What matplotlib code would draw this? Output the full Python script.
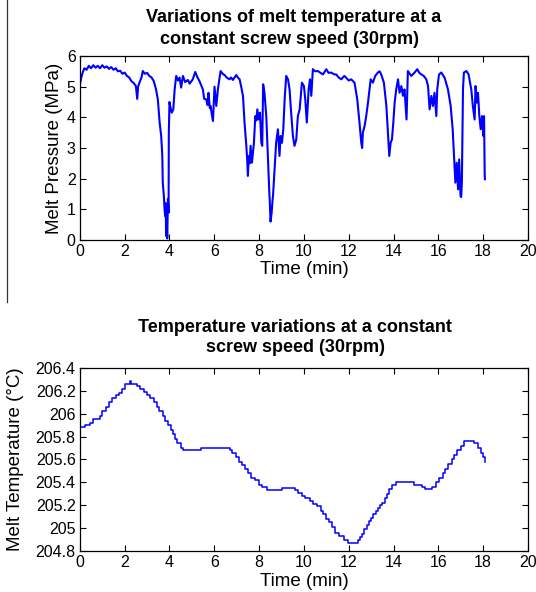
import matplotlib

matplotlib.use("Agg")
import matplotlib.pyplot as plt
from matplotlib.lines import Line2D

plt.rcParams["font.family"] = ["Liberation Sans", "DejaVu Sans"]

# melt pressure trace (time in min, pressure in MPa)
pressure_time = [
    0.0, 0.05, 0.12, 0.2, 0.3, 0.4, 0.5, 0.6, 0.7, 0.8, 0.9, 1.0, 1.1, 1.2, 1.3, 1.4,
    1.5, 1.6, 1.7, 1.8, 1.9, 2.0, 2.1, 2.2, 2.3, 2.4, 2.5, 2.56, 2.6, 2.66, 2.75, 2.81,
    2.9, 3.0, 3.1, 3.2, 3.3, 3.4, 3.48, 3.56, 3.63, 3.68, 3.7, 3.75, 3.78, 3.81, 3.83, 3.85,
    3.88, 3.9, 3.93, 3.96, 3.97, 4.0, 4.03, 4.1, 4.17, 4.23, 4.3, 4.38, 4.45, 4.52, 4.6, 4.7,
    4.82, 4.9, 5.04, 5.15, 5.25, 5.34, 5.49, 5.55, 5.64, 5.7, 5.74, 5.8, 5.83, 5.94, 6.01, 6.09,
    6.16, 6.22, 6.28, 6.4, 6.46, 6.55, 6.68, 6.75, 6.83, 6.98, 7.05, 7.13, 7.2, 7.28, 7.35, 7.43,
    7.47, 7.5, 7.54, 7.58, 7.62, 7.68, 7.77, 7.83, 7.88, 7.92, 7.98, 8.04, 8.1, 8.14, 8.18, 8.24,
    8.32, 8.39, 8.45, 8.48, 8.51, 8.56, 8.6, 8.62, 8.66, 8.69, 8.76, 8.84, 8.91, 8.96, 9.02, 9.08,
    9.14, 9.21, 9.29, 9.36, 9.43, 9.51, 9.58, 9.66, 9.73, 9.81, 9.91, 10.0, 10.06, 10.13, 10.21, 10.27,
    10.33, 10.4, 10.5, 10.62, 10.75, 10.85, 11.0, 11.1, 11.22, 11.35, 11.44, 11.55, 11.67, 11.8, 11.89, 12.0,
    12.11, 12.26, 12.38, 12.48, 12.56, 12.6, 12.63, 12.71, 12.78, 12.86, 12.93, 12.98, 13.08, 13.18, 13.3, 13.38,
    13.45, 13.57, 13.68, 13.75, 13.81, 13.87, 13.93, 13.99, 14.05, 14.12, 14.2, 14.27, 14.35, 14.42, 14.49, 14.58,
    14.64, 14.79, 14.94, 15.06, 15.15, 15.24, 15.35, 15.46, 15.54, 15.61, 15.69, 15.76, 15.83, 15.91, 15.95, 16.03,
    16.13, 16.28, 16.43, 16.55, 16.64, 16.7, 16.76, 16.82, 16.88, 16.93, 16.99, 17.02, 17.05, 17.1, 17.14, 17.25,
    17.35, 17.47, 17.54, 17.62, 17.66, 17.72, 17.77, 17.83, 17.89, 17.95, 18.01, 18.04, 18.07, 18.08,
]
pressure_mpa = [
    5.05, 5.25, 5.45, 5.6, 5.55, 5.68, 5.6, 5.7, 5.62, 5.68, 5.6, 5.7, 5.62, 5.66, 5.58, 5.64,
    5.55, 5.6, 5.5, 5.52, 5.42, 5.46, 5.35, 5.3, 5.18, 5.12, 5.02, 4.6, 5.0, 5.13, 5.3, 5.51,
    5.42, 5.45, 5.35, 5.3, 5.18, 4.91, 4.59, 3.83, 3.39, 2.74, 1.87, 1.43, 1.0, 0.78, 1.2, 0.13,
    0.5, 0.05, 1.33, 0.89, 3.5, 4.5, 4.37, 4.15, 4.26, 4.91, 5.35, 5.2, 5.3, 4.97, 5.35, 5.15,
    5.22, 5.1, 5.24, 5.48, 5.3, 5.18, 4.91, 4.6, 4.59, 4.4, 4.8, 4.3, 4.37, 3.88, 5.0, 4.37,
    4.91, 5.2, 5.51, 5.4, 5.38, 5.3, 5.24, 5.3, 5.22, 5.38, 5.3, 5.24, 5.0, 4.7, 3.83, 3.07,
    2.6, 2.09, 2.74, 2.5, 3.07, 2.52, 3.17, 4.04, 3.9, 4.26, 3.93, 4.15, 3.17, 3.07, 5.08, 4.8,
    4.04, 2.74, 1.65, 1.2, 0.6, 0.89, 1.3, 1.43, 1.9, 2.3, 3.17, 3.61, 2.74, 3.39, 3.17, 3.61,
    4.59, 5.35, 5.24, 4.91, 4.15, 3.39, 3.07, 3.28, 4.04, 4.26, 5.13, 5.02, 4.59, 3.83, 4.91, 5.24,
    4.7, 5.57, 5.5, 5.51, 5.45, 5.4, 5.57, 5.45, 5.46, 5.4, 5.4, 5.3, 5.24, 5.35, 5.29, 5.2,
    5.24, 5.13, 4.59, 3.83, 3.17, 3.0, 3.5, 3.72, 4.04, 4.48, 4.91, 5.24, 5.13, 5.35, 5.46, 5.5,
    5.4, 5.13, 4.37, 3.5, 2.74, 3.17, 3.28, 3.83, 4.48, 4.91, 5.24, 4.8, 5.02, 4.7, 4.91, 3.93,
    5.51, 5.35, 5.46, 5.57, 5.45, 5.4, 5.35, 5.24, 5.02, 4.26, 4.7, 4.37, 4.8, 4.04, 4.91, 5.4,
    5.46, 5.29, 4.91, 4.37, 3.61, 2.74, 1.87, 2.52, 1.65, 2.63, 1.43, 1.4, 1.87, 4.91, 5.46, 5.51,
    5.4, 4.91, 4.37, 3.93, 5.02, 4.48, 4.8, 4.04, 3.61, 4.04, 3.39, 4.04, 2.09, 1.98,
]

# melt temperature, stepwise readings (time in min, temperature in degC)
temp_time = [
    0.0, 0.25, 0.45, 0.6, 0.9, 1.0, 1.15, 1.3, 1.45, 1.6, 1.75, 1.88, 2.0, 2.25, 2.3, 2.55,
    2.7, 2.85, 3.0, 3.15, 3.3, 3.45, 3.55, 3.7, 3.8, 3.95, 4.05, 4.15, 4.25, 4.35, 4.5, 4.6,
    5.4, 6.7, 6.8, 6.95, 7.1, 7.25, 7.35, 7.5, 7.65, 7.8, 8.0, 8.15, 8.35, 9.0, 9.6, 9.75,
    9.9, 10.05, 10.25, 10.4, 10.6, 10.75, 10.85, 11.0, 11.1, 11.25, 11.4, 11.55, 11.8, 11.95, 12.4, 12.5,
    12.6, 12.7, 12.8, 12.9, 13.0, 13.1, 13.2, 13.3, 13.4, 13.5, 13.6, 13.7, 13.8, 13.95, 14.1, 14.9,
    15.25, 15.4, 15.7, 15.9, 16.05, 16.2, 16.3, 16.45, 16.6, 16.7, 16.85, 17.0, 17.15, 17.6, 17.75, 17.9,
    18.0, 18.08,
]
temp_c = [
    205.88, 205.90, 205.92, 205.95, 205.98, 206.02, 206.06, 206.10, 206.14, 206.16, 206.18, 206.22, 206.26, 206.29, 206.26, 206.24,
    206.22, 206.19, 206.16, 206.14, 206.10, 206.06, 206.02, 205.98, 205.94, 205.90, 205.86, 205.82, 205.78, 205.74, 205.70, 205.68,
    205.70, 205.68, 205.66, 205.62, 205.58, 205.55, 205.52, 205.48, 205.44, 205.42, 205.38, 205.36, 205.33, 205.35, 205.33, 205.31,
    205.28, 205.26, 205.24, 205.21, 205.19, 205.15, 205.12, 205.08, 205.05, 205.01, 204.96, 204.93, 204.90, 204.87, 204.90, 204.92,
    204.95, 204.99, 205.03, 205.06, 205.09, 205.12, 205.15, 205.18, 205.20, 205.22, 205.26, 205.30, 205.34, 205.38, 205.40, 205.38,
    205.36, 205.34, 205.36, 205.40, 205.44, 205.48, 205.52, 205.56, 205.60, 205.64, 205.68, 205.72, 205.76, 205.74, 205.70, 205.66,
    205.62, 205.58,
]

x_ticks = list(range(0, 21, 2))
pressure_ticks = [0, 1, 2, 3, 4, 5, 6]
temp_ticks = [204.8, 205.0, 205.2, 205.4, 205.6, 205.8, 206.0, 206.2, 206.4]
temp_tick_labels = ["204.8", "205", "205.2", "205.4", "205.6", "205.8", "206", "206.2", "206.4"]

BLUE = "#0000ff"


def style_axes(ax):
    ax.tick_params(direction="in", top=True, right=True, length=4, width=0.8, labelsize=11.5, pad=3)
    for spine in ax.spines.values():
        spine.set_linewidth(0.9)
        spine.set_color("black")


def main():
    fig = plt.figure(figsize=(5.36, 5.92), dpi=100)

    ax1 = fig.add_axes([0.149, 0.5946, 0.836, 0.3108])
    ax1.plot(pressure_time, pressure_mpa, color=BLUE, linewidth=1.5)
    ax1.set_xlim(0, 20)
    ax1.set_ylim(0, 6)
    ax1.set_xticks(x_ticks)
    ax1.set_yticks(pressure_ticks)
    style_axes(ax1)
    ax1.set_xlabel("Time (min)", fontsize=13.5, labelpad=1)
    ax1.set_ylabel("Melt Pressure (MPa)", fontsize=13.5)
    ax1.yaxis.set_label_coords(-0.038, 0.5)

    ax2 = fig.add_axes([0.149, 0.0693, 0.836, 0.3091])
    ax2.plot(temp_time, temp_c, color=BLUE, linewidth=1.1, drawstyle="steps-post")
    ax2.set_xlim(0, 20)
    ax2.set_ylim(204.8, 206.4)
    ax2.set_xticks(x_ticks)
    ax2.set_yticks(temp_ticks)
    ax2.set_yticklabels(temp_tick_labels)
    style_axes(ax2)
    ax2.set_xlabel("Time (min)", fontsize=13.5, labelpad=2)
    ax2.set_ylabel("Melt Temperature (\u00b0C)", fontsize=13.5)
    ax2.yaxis.set_label_coords(-0.125, 0.5)

    title_kw = dict(ha="center", va="center", fontsize=13, fontweight="bold")
    fig.text(294 / 536, 1 - 18 / 592, "Variations of melt temperature at a", **title_kw)
    fig.text(289 / 536, 1 - 39 / 592, "constant screw speed (30rpm)", **title_kw)
    fig.text(295 / 536, 1 - 327 / 592, "Temperature variations at a constant", **title_kw)
    fig.text(295 / 536, 1 - 348 / 592, "screw speed (30rpm)", **title_kw)

    # thin rule down the left margin, as in the scanned figure
    fig.add_artist(Line2D([6.5 / 536, 6.5 / 536], [1.0, 1 - 302 / 592],
                          transform=fig.transFigure, color="#333333", linewidth=0.9))

    fig.savefig("out.png", dpi=100)


if __name__ == "__main__":
    main()
